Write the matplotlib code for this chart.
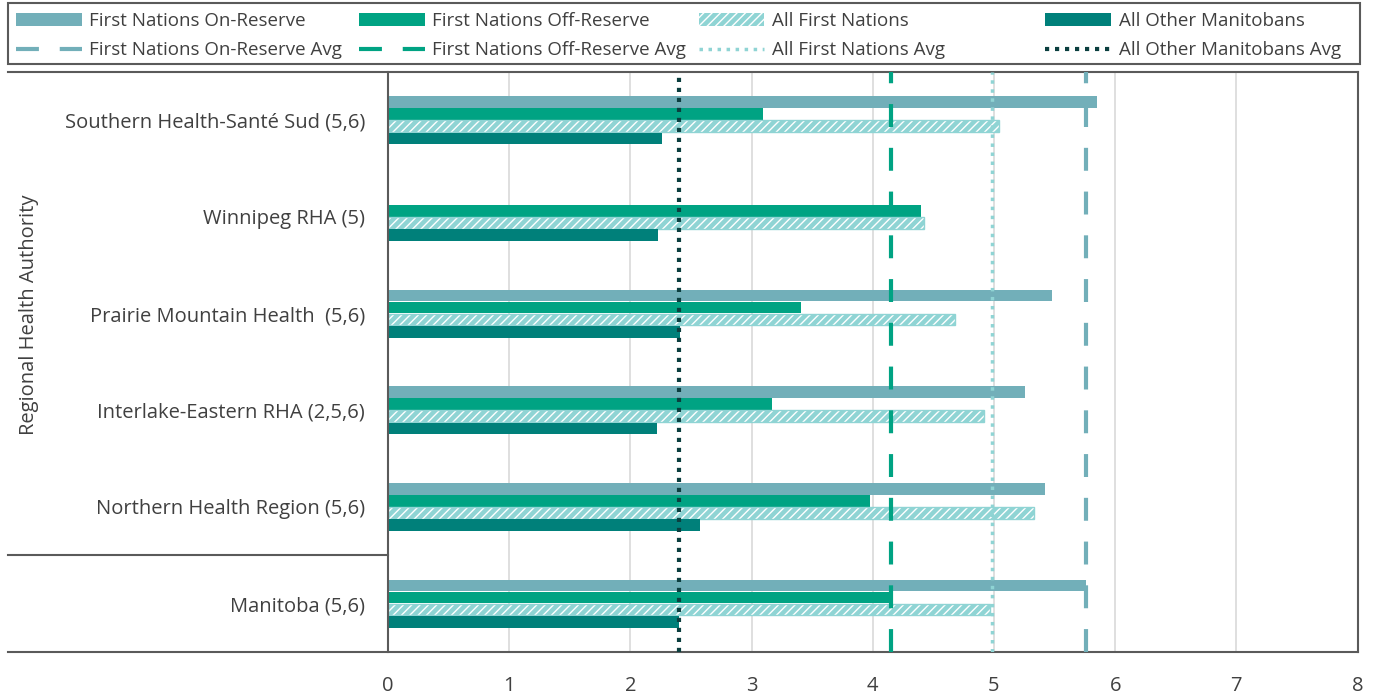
import numpy as np
import matplotlib.pyplot as plt
from matplotlib.lines import Line2D
from matplotlib.patches import Patch, Rectangle
import matplotlib.transforms as mtransforms

plt.rcParams['font.family'] = ['Open Sans', 'DejaVu Sans']

# data
regions = ["Southern Health-Santé Sud (5,6)", "Winnipeg RHA (5)", "Prairie Mountain Health  (5,6)",
           "Interlake-Eastern RHA (2,5,6)", "Northern Health Region (5,6)", "Manitoba (5,6)"]
on_reserve = [5.85, np.nan, 5.48, 5.26, 5.42, 5.76]
off_reserve = [3.09, 4.40, 3.41, 3.17, 3.98, 4.16]
all_fn = [5.04, 4.42, 4.68, 4.92, 5.33, 4.97]
all_other = [2.26, 2.23, 2.41, 2.22, 2.57, 2.40]

on_avg = 5.76
off_avg = 4.15
all_fn_avg = 4.98
other_avg = 2.40

c_on = '#72afb9'
c_off = '#00a383'
c_fn = '#8fd4d4'
c_other = '#00807a'
c_other_avg = '#0b3f3f'
edge = '#5a5a5a'
txt = '#404040'

fig = plt.figure(figsize=(13.81, 6.98), dpi=100)
ax = fig.add_axes([0.281, 0.066, 0.702, 0.831])

y = np.arange(len(regions))
h = 0.125
bw = 0.12
ax.barh(y - 1.5 * h, on_reserve, height=bw, color=c_on, zorder=2)
ax.barh(y - 0.5 * h, off_reserve, height=bw, color=c_off, zorder=2)
ax.barh(y + 0.5 * h, all_fn, height=bw, color=c_fn, edgecolor='white', hatch='////', lw=0, zorder=2)
ax.barh(y + 0.5 * h, all_fn, height=bw, fill=False, edgecolor=c_fn, lw=1, zorder=2)
ax.barh(y + 1.5 * h, all_other, height=bw, color=c_other, zorder=2)

ax.axvline(on_avg, color=c_on, lw=3, ls=(0, (5.5, 5)), zorder=3)
ax.axvline(off_avg, color=c_off, lw=3, ls=(0, (5.5, 5)), zorder=3)
ax.axvline(all_fn_avg, color=c_fn, lw=2.5, ls=(0, (1, 1.6)), zorder=3)
ax.axvline(other_avg, color=c_other_avg, lw=3, ls=(0, (1, 1.4)), zorder=3)

ax.set_xlim(0, 8)
ax.set_ylim(len(regions) - 0.5, -0.5)
ax.set_xticks(range(9))
ax.set_yticks(y)
ax.set_yticklabels(regions)
ax.tick_params(axis='both', length=0, labelsize=14.5, colors=txt)
ax.tick_params(axis='x', pad=17)
ax.tick_params(axis='y', pad=16.5)
ax.grid(axis='x', color='#d9d9d9', lw=1.2, zorder=0)
ax.set_axisbelow(True)

for s in ['top', 'bottom']:
    ax.spines[s].set_visible(False)
for s in ['left', 'right']:
    ax.spines[s].set_color(edge)
    ax.spines[s].set_linewidth(1.5)

# extended frame lines on the left (category table look)
x0 = (8 - 388) / 970
ax.plot([x0, 1], [1, 1], transform=ax.transAxes, color=edge, lw=1.5, clip_on=False)
ax.plot([x0, 1], [0, 0], transform=ax.transAxes, color=edge, lw=1.5, clip_on=False)
trans = mtransforms.blended_transform_factory(ax.transAxes, ax.transData)
ax.plot([x0, 0], [4.5, 4.5], transform=trans, color=edge, lw=1.5, clip_on=False)

fig.text(0.021, 0.549, 'Regional Health Authority', rotation=90, va='center', ha='center',
         fontsize=14.5, color=txt)

# legend: four equal-width columns inside one frame
columns = [
    ([Patch(facecolor=c_on), Line2D([], [], color=c_on, lw=3, ls=(0, (5.5, 5)))],
     ['First Nations On-Reserve', 'First Nations On-Reserve Avg']),
    ([Patch(facecolor=c_off), Line2D([], [], color=c_off, lw=3, ls=(0, (5.5, 5)))],
     ['First Nations Off-Reserve', 'First Nations Off-Reserve Avg']),
    ([Patch(facecolor=c_fn, edgecolor='white', hatch='////', lw=0),
      Line2D([], [], color=c_fn, lw=2.5, ls=(0, (1, 1.6)))],
     ['All First Nations', 'All First Nations Avg']),
    ([Patch(facecolor=c_other), Line2D([], [], color=c_other_avg, lw=3, ls=(0, (1, 1.4)))],
     ['All Other Manitobans', 'All Other Manitobans Avg']),
]
col_x = [0.0116, 0.26, 0.506, 0.757]
for (hs, ls), cx in zip(columns, col_x):
    leg = fig.legend(hs, ls, loc='upper left', bbox_to_anchor=(cx, 0.983),
                     fontsize=13.5, frameon=False, handlelength=3.5, handleheight=0.7,
                     labelspacing=0.6, borderaxespad=0, borderpad=0, handletextpad=0.4)
    for t in leg.get_texts():
        t.set_color(txt)
fig.patches.append(Rectangle((0.0058, 0.908), 0.979, 0.0874, transform=fig.transFigure,
                             fill=False, edgecolor=edge, lw=1.5))

fig.savefig('out.png', dpi=100)
